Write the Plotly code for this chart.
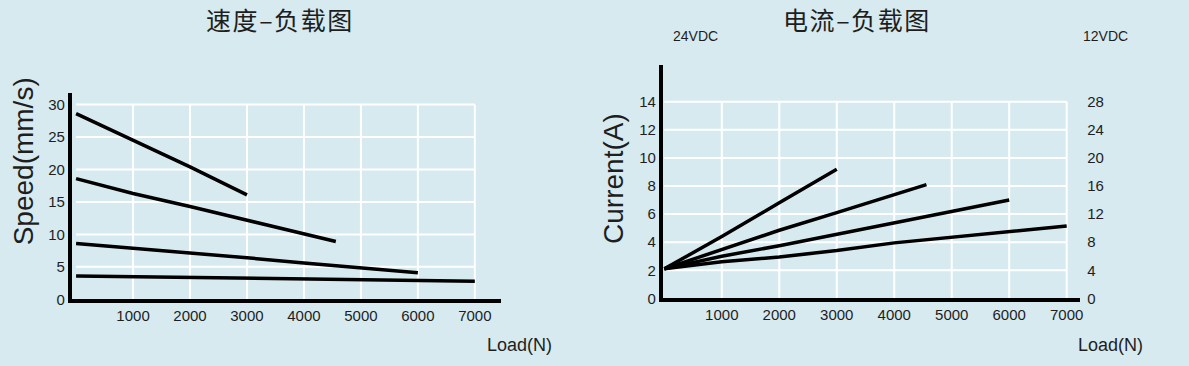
import plotly.graph_objects as go

W, H = 1189, 366

# ---------------- data ----------------
load_ticks = [1000, 2000, 3000, 4000, 5000, 6000, 7000]
speed_ticks = [0, 5, 10, 15, 20, 25, 30]
current_ticks = [0, 2, 4, 6, 8, 10, 12, 14]
current12_ticks = [0, 4, 8, 12, 16, 20, 24, 28]

speed1_x = [0, 1000, 2000, 3000]
speed1_y = [28.6, 24.5, 20.4, 16.1]
speed2_x = [0, 1000, 2000, 3000, 4000, 4560]
speed2_y = [18.6, 16.3, 14.3, 12.2, 10.2, 8.9]
speed3_x = [0, 1000, 2000, 3000, 4000, 5000, 6000]
speed3_y = [8.6, 7.9, 7.1, 6.4, 5.6, 4.9, 4.1]
speed4_x = [0, 3000, 7000]
speed4_y = [3.6, 3.25, 2.8]

cur1_x = [0, 1000, 2000, 3000]
cur1_y = [2.1, 4.4, 6.8, 9.2]
cur2_x = [0, 1000, 2000, 3000, 4000, 4560]
cur2_y = [2.1, 3.5, 4.85, 6.1, 7.4, 8.1]
cur3_x = [0, 1000, 2000, 3000, 4000, 5000, 6000]
cur3_y = [2.1, 3.0, 3.75, 4.55, 5.4, 6.2, 7.0]
cur4_x = [0, 1000, 2000, 3000, 4000, 5000, 6000, 7000]
cur4_y = [2.1, 2.6, 2.95, 3.4, 3.95, 4.35, 4.7, 5.15]

# ---------------- style ----------------
BG = "#d6eaf0"
INK = "#1e1e1e"
FONT = "Liberation Sans, Arial, sans-serif"
CJK = "Noto Sans CJK SC"
HS = "\u200a"  # hair space between title glyphs


def fx(px):
    return px / W


def fy(py):
    return 1 - py / H


fig = go.Figure()

line_style = dict(color="black", width=3.5)
for xs, ys in [(speed1_x, speed1_y), (speed2_x, speed2_y), (speed3_x, speed3_y), (speed4_x, speed4_y)]:
    fig.add_trace(go.Scatter(x=xs, y=ys, mode="lines", line=line_style, xaxis="x", yaxis="y",
                             showlegend=False, hoverinfo="skip"))
for xs, ys in [(cur1_x, cur1_y), (cur2_x, cur2_y), (cur3_x, cur3_y), (cur4_x, cur4_y)]:
    fig.add_trace(go.Scatter(x=xs, y=ys, mode="lines", line=line_style, xaxis="x2", yaxis="y2",
                             showlegend=False, hoverinfo="skip"))
# invisible trace for the 12VDC axis
fig.add_trace(go.Scatter(x=[0], y=[0], mode="markers", marker=dict(opacity=0), xaxis="x2", yaxis="y3",
                         showlegend=False, hoverinfo="skip"))

# grid lines limited to data area (as in the original)
shapes = []
grid = dict(color="white", width=2)
xmax = load_ticks[-1]
for xv in load_ticks:
    shapes.append(dict(type="line", xref="x", yref="y", x0=xv, x1=xv, y0=0, y1=speed_ticks[-1], line=grid, layer="below"))
    shapes.append(dict(type="line", xref="x2", yref="y2", x0=xv, x1=xv, y0=0, y1=current_ticks[-1], line=grid, layer="below"))
for yv in speed_ticks[1:]:
    shapes.append(dict(type="line", xref="x", yref="y", x0=0, x1=xmax, y0=yv, y1=yv, line=grid, layer="below"))
for yv in current_ticks[1:]:
    shapes.append(dict(type="line", xref="x2", yref="y2", x0=0, x1=xmax, y0=yv, y1=yv, line=grid, layer="below"))

tickfont = dict(family=FONT, size=15, color=INK)
axis_common = dict(showgrid=False, zeroline=False, ticks="", showline=True, linecolor="black",
                   linewidth=4, tickfont=tickfont, fixedrange=True)

fig.update_layout(
    width=W, height=H,
    margin=dict(l=0, r=0, t=0, b=0),
    paper_bgcolor=BG, plot_bgcolor=BG,
    shapes=shapes,
    xaxis=dict(domain=[fx(72), fx(502)], range=[-75, 7455], anchor="y",
               tickvals=load_ticks, ticktext=[str(v) for v in load_ticks], **axis_common),
    yaxis=dict(domain=[fy(306), fy(95)], range=[0, 31.8], anchor="x",
               tickvals=speed_ticks, ticktext=[str(v) for v in speed_ticks], **axis_common),
    xaxis2=dict(domain=[fx(664.5), fx(1083)], range=[-26, 7236], anchor="y2",
                tickvals=load_ticks, ticktext=[str(v) for v in load_ticks], **axis_common),
    yaxis2=dict(domain=[fy(305), fy(66.7)], range=[0, 16.6], anchor="x2",
                tickvals=current_ticks, ticktext=[str(v) for v in current_ticks], **axis_common),
    yaxis3=dict(overlaying="y2", side="right", anchor="free", position=fx(1089),
                range=[0, 33.2], tickvals=current12_ticks, ticktext=[str(v) for v in current12_ticks],
                showgrid=False, zeroline=False, ticks="", showline=False, tickfont=tickfont,
                fixedrange=True),
)

ann = []
ann.append(dict(text=HS.join(["速", "度", "–", "负", "载", "图"]), x=fx(279.5), y=fy(19),
                xref="paper", yref="paper", showarrow=False, xanchor="center", yanchor="middle",
                font=dict(family=CJK, size=25, color=INK)))
ann.append(dict(text=HS.join(["电", "流", "–", "负", "载", "图"]), x=fx(858.5), y=fy(19),
                xref="paper", yref="paper", showarrow=False, xanchor="center", yanchor="middle",
                font=dict(family=CJK, size=25, color=INK)))
ann.append(dict(text="24VDC", x=fx(697.5), y=fy(37), xref="paper", yref="paper",
                showarrow=False, xanchor="center", yanchor="middle",
                font=dict(family=FONT, size=14, color=INK)))
ann.append(dict(text="12VDC", x=fx(1108), y=fy(37), xref="paper", yref="paper",
                showarrow=False, xanchor="center", yanchor="middle",
                font=dict(family=FONT, size=14, color=INK)))
ann.append(dict(text="Load(N)", x=fx(521), y=fy(353), xref="paper", yref="paper",
                showarrow=False, xanchor="center", yanchor="middle",
                font=dict(family=FONT, size=18, color=INK)))
ann.append(dict(text="Load(N)", x=fx(1113), y=fy(353), xref="paper", yref="paper",
                showarrow=False, xanchor="center", yanchor="middle",
                font=dict(family=FONT, size=18, color=INK)))
ann.append(dict(text="Speed(mm/s)", x=fx(23), y=fy(165), xref="paper", yref="paper",
                showarrow=False, xanchor="center", yanchor="middle", textangle=-90,
                font=dict(family=FONT, size=28, color=INK)))
ann.append(dict(text="Current(A)", x=fx(615), y=fy(182.5), xref="paper", yref="paper",
                showarrow=False, xanchor="center", yanchor="middle", textangle=-90,
                font=dict(family=FONT, size=28, color=INK)))
fig.update_layout(annotations=ann)

fig.write_html("out.html", config={"displayModeBar": False},
               post_script="document.body.style.margin='0';document.body.style.padding='0';"
                           "document.documentElement.style.overflow='hidden';")
